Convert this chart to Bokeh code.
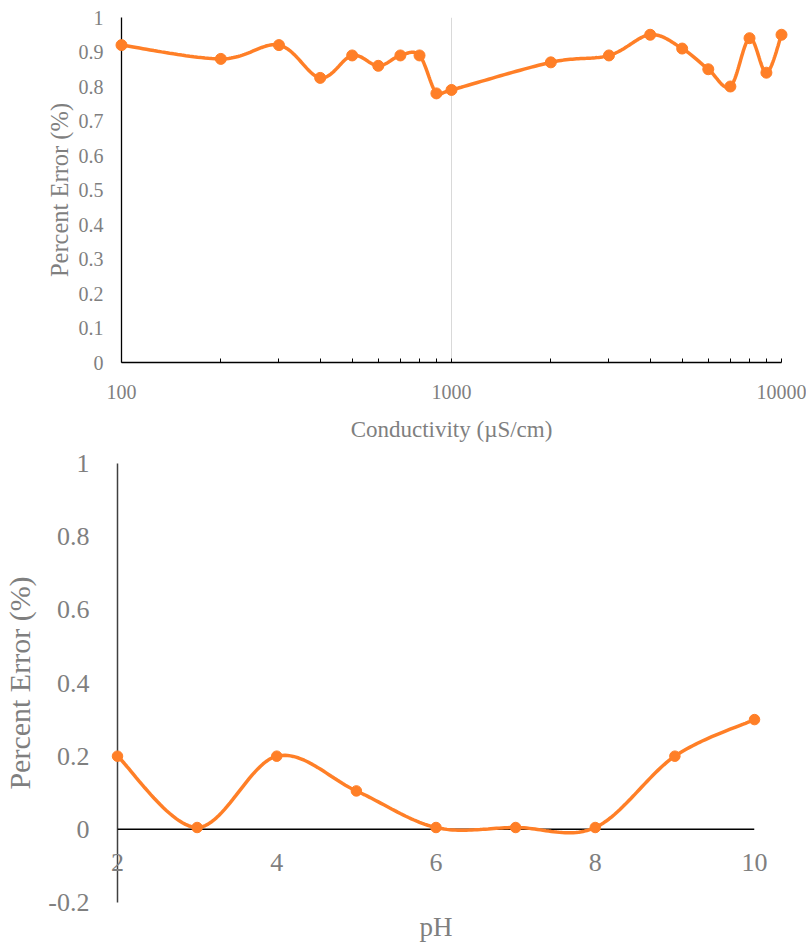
import numpy as np
from bokeh.plotting import figure
from bokeh.models import FixedTicker, PrintfTickFormatter, CustomJSTickFormatter, Span
from bokeh.core.properties import value
from bokeh.embed import file_html
from bokeh.resources import INLINE

# ---------------- data ----------------
cond = [100, 200, 300, 400, 500, 600, 700, 800, 900, 1000,
        2000, 3000, 4000, 5000, 6000, 7000, 8000, 9000, 10000]
cond_err = [0.92, 0.88, 0.92, 0.825, 0.89, 0.86, 0.89, 0.89, 0.78, 0.79,
            0.87, 0.89, 0.95, 0.91, 0.85, 0.80, 0.94, 0.84, 0.95]
cond_major_ticks = [100, 1000, 10000]
cond_y_ticks = [0, 0.1, 0.2, 0.3, 0.4, 0.5, 0.6, 0.7, 0.8, 0.9, 1]

ph = [2, 3, 4, 5, 6, 7, 8, 9, 10]
ph_err = [0.2, 0.005, 0.2, 0.105, 0.005, 0.005, 0.005, 0.2, 0.3]
ph_x_ticks = [2, 4, 6, 8, 10]
ph_x_tick_labels = ["2", "4", "6", "8", "10"]
ph_y_ticks = [-0.2, 0, 0.2, 0.4, 0.6, 0.8, 1]

ORANGE = "#FF7F27"
GRAY = "#7f7f7f"
FONT = "Liberation Serif"


def smooth(xs, ys, n=30):
    P = np.column_stack([xs, ys]).astype(float)
    m = len(P)
    out = []
    t = np.linspace(0, 1, n)[:, None]
    for i in range(m - 1):
        p0 = P[max(i - 1, 0)]
        p1 = P[i]
        p2 = P[i + 1]
        p3 = P[min(i + 2, m - 1)]
        c1 = p1 + (p2 - p0) / 6.0
        c2 = p2 - (p3 - p1) / 6.0
        seg = (1 - t) ** 3 * p1 + 3 * (1 - t) ** 2 * t * c1 + 3 * (1 - t) * t ** 2 * c2 + t ** 3 * p2
        out.append(seg if i == 0 else seg[1:])
    return np.vstack(out)


fmt = CustomJSTickFormatter(code="return String(Math.round(tick*10)/10);")

# ---------------- top chart ----------------
p1 = figure(width=806, height=447, x_axis_type="log", x_range=(100, 10000), y_range=(0, 1),
            output_backend="svg", toolbar_location=None,
            min_border_left=121, min_border_right=25, min_border_top=17, min_border_bottom=85)
p1.outline_line_color = None
p1.ygrid.visible = False
minor = [m * d for d in cond_major_ticks[:-1] for m in range(2, 10)]
p1.xaxis.ticker = FixedTicker(ticks=cond_major_ticks, minor_ticks=minor)
p1.xgrid.ticker = FixedTicker(ticks=cond_major_ticks)
p1.xgrid.grid_line_color = "#d9d9d9"
p1.xgrid.grid_line_width = 1
p1.xaxis.formatter = PrintfTickFormatter(format="%d")
p1.yaxis.ticker = FixedTicker(ticks=cond_y_ticks)
p1.yaxis.formatter = fmt

for ax in (p1.xaxis, p1.yaxis):
    ax.axis_line_color = "black"
    ax.axis_line_width = 1.3
    ax.major_label_text_font = FONT
    ax.major_label_text_font_size = "20px"
    ax.major_label_text_color = GRAY
    ax.axis_label_text_font = FONT
    ax.axis_label_text_font_style = "normal"
    ax.axis_label_text_color = GRAY

p1.xaxis.axis_label_text_font_size = "23px"
p1.yaxis.axis_label_text_font_size = "24.5px"

p1.xaxis.major_tick_in = 4
p1.xaxis.major_tick_out = 0
p1.xaxis.minor_tick_in = 4
p1.xaxis.minor_tick_out = 0
p1.xaxis.major_tick_line_color = "black"
p1.xaxis.minor_tick_line_color = "black"
p1.xaxis.major_label_standoff = 22
p1.xaxis.axis_label = "Conductivity (µS/cm)"
p1.xaxis.axis_label_standoff = 15

p1.yaxis.major_tick_in = 0
p1.yaxis.major_tick_out = 0
p1.yaxis.minor_tick_line_color = None
p1.yaxis.major_label_standoff = 18
p1.yaxis.axis_label = "Percent Error (%)"
p1.yaxis.axis_label_standoff = 3

s1 = smooth(np.log10(cond), cond_err)
l1 = p1.line(10 ** s1[:, 0], s1[:, 1], line_color=ORANGE, line_width=3.5)
m1 = p1.scatter(cond, cond_err, size=11, fill_color=ORANGE, line_color=ORANGE)
l1.level = "overlay"
m1.level = "overlay"

# ---------------- bottom chart ----------------
p2 = figure(width=806, height=497, x_range=(2, 10), y_range=(-0.2, 1),
            output_backend="svg", toolbar_location=None,
            min_border_left=117, min_border_right=52, min_border_top=16, min_border_bottom=41)
p2.outline_line_color = None
p2.grid.visible = False
p2.yaxis.ticker = FixedTicker(ticks=ph_y_ticks)
p2.yaxis.formatter = fmt
p2.yaxis.axis_line_color = "#404040"
p2.yaxis.axis_line_width = 1.5
p2.yaxis.major_tick_line_color = None
p2.yaxis.minor_tick_line_color = None
p2.yaxis.major_label_text_font = FONT
p2.yaxis.major_label_text_font_size = "26px"
p2.yaxis.major_label_text_color = GRAY
p2.yaxis.major_label_standoff = 22
p2.yaxis.axis_label = "Percent Error (%)"
p2.yaxis.axis_label_text_font = FONT
p2.yaxis.axis_label_text_font_style = "normal"
p2.yaxis.axis_label_text_font_size = "30px"
p2.yaxis.axis_label_text_color = GRAY
p2.yaxis.axis_label_standoff = 9

p2.xaxis.ticker = FixedTicker(ticks=[])
p2.xaxis.axis_line_color = None
p2.xaxis.major_tick_line_color = None
p2.xaxis.minor_tick_line_color = None
p2.xaxis.major_label_standoff = 0
p2.xaxis.axis_label = "pH"
p2.xaxis.axis_label_text_font = FONT
p2.xaxis.axis_label_text_font_style = "normal"
p2.xaxis.axis_label_text_font_size = "27px"
p2.xaxis.axis_label_text_color = GRAY
p2.xaxis.axis_label_standoff = 9

p2.add_layout(Span(location=0, dimension="width", line_color="black", line_width=1.5))

t2 = p2.text(x=ph_x_ticks, y=[0] * len(ph_x_ticks), text=ph_x_tick_labels,
             text_font=value(FONT), text_font_size="26px", text_color=GRAY,
             text_align="center", text_baseline="middle", y_offset=33)
t2.level = "overlay"

s2 = smooth(ph, ph_err)
l2 = p2.line(s2[:, 0], s2[:, 1], line_color=ORANGE, line_width=3.5)
m2 = p2.scatter(ph, ph_err, size=10.5, fill_color=ORANGE, line_color=ORANGE)
l2.level = "overlay"
m2.level = "overlay"

open("out.html", "w").write(file_html([p1, p2], INLINE))
